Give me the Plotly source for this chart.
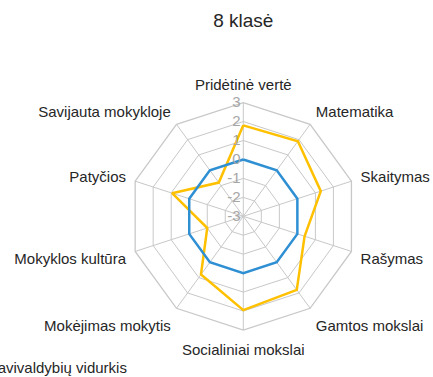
import plotly.graph_objects as go

# Radar categories (clockwise from the top)
categories = [
    "Pridėtinė vertė",
    "Matematika",
    "Skaitymas",
    "Rašymas",
    "Gamtos mokslai",
    "Socialiniai mokslai",
    "Mokėjimas mokytis",
    "Mokyklos kultūra",
    "Patyčios",
    "Savijauta mokykloje",
]

school_values = [1.8, 1.9, 1.3, 0.4, 1.8, 1.95, 0.8, -1.0, 0.95, -0.8]
municipal_values = [0, 0, 0, 0, 0, 0, 0, 0, 0, 0]

radial_ticks = [-3, -2, -1, 0, 1, 2, 3]

FONT = "Liberation Sans, Arial, sans-serif"
TEXT = "#262626"
GRID = "#c8c8c8"


def closed(seq):
    return list(seq) + [seq[0]]


fig = go.Figure()
fig.add_trace(go.Scatterpolar(
    r=closed(school_values),
    theta=closed(categories),
    mode="lines",
    name="Mokykla",
    line=dict(color="#FFC000", width=2.5),
))
fig.add_trace(go.Scatterpolar(
    r=closed(municipal_values),
    theta=closed(categories),
    mode="lines",
    name="Savivaldybių vidurkis",
    line=dict(color="#2E8FD3", width=2.5),
))

W, H = 433, 377
cx, cy, R = 243.3, 216.3, 113.7

fig.update_layout(
    width=W,
    height=H,
    margin=dict(l=0, r=0, t=0, b=0, autoexpand=False),
    paper_bgcolor="white",
    plot_bgcolor="white",
    font=dict(family=FONT, color=TEXT, size=15),
    title=dict(
        text="8 klasė",
        x=cx / W,
        xanchor="center",
        y=1 - 20 / H,
        yanchor="middle",
        font=dict(size=19, color=TEXT),
    ),
    polar=dict(
        domain=dict(x=[(cx - R) / W, (cx + R) / W], y=[1 - (cy + R) / H, 1 - (cy - R) / H]),
        bgcolor="white",
        gridshape="linear",
        radialaxis=dict(
            range=[-3, 3],
            tickvals=radial_ticks,
            ticktext=[str(v) for v in radial_ticks],
            angle=90,
            tickangle=90,
            side="counterclockwise",
            showline=False,
            gridcolor=GRID,
            gridwidth=1.3,
            ticks="",
            tickfont=dict(color="#a6a6a6", size=15),
        ),
        angularaxis=dict(
            rotation=90,
            direction="clockwise",
            gridcolor=GRID,
            gridwidth=1.3,
            linecolor=GRID,
            linewidth=1.3,
            ticks="outside",
            ticklen=6,
            tickcolor="rgba(0,0,0,0)",
            tickfont=dict(color=TEXT, size=15),
        ),
    ),
    showlegend=True,
    legend=dict(
        orientation="h",
        xanchor="right",
        x=132 / W,
        yanchor="middle",
        y=1 - 367 / H,
        font=dict(size=15, color=TEXT),
        bgcolor="rgba(0,0,0,0)",
    ),
)

fig.write_html("out.html")
